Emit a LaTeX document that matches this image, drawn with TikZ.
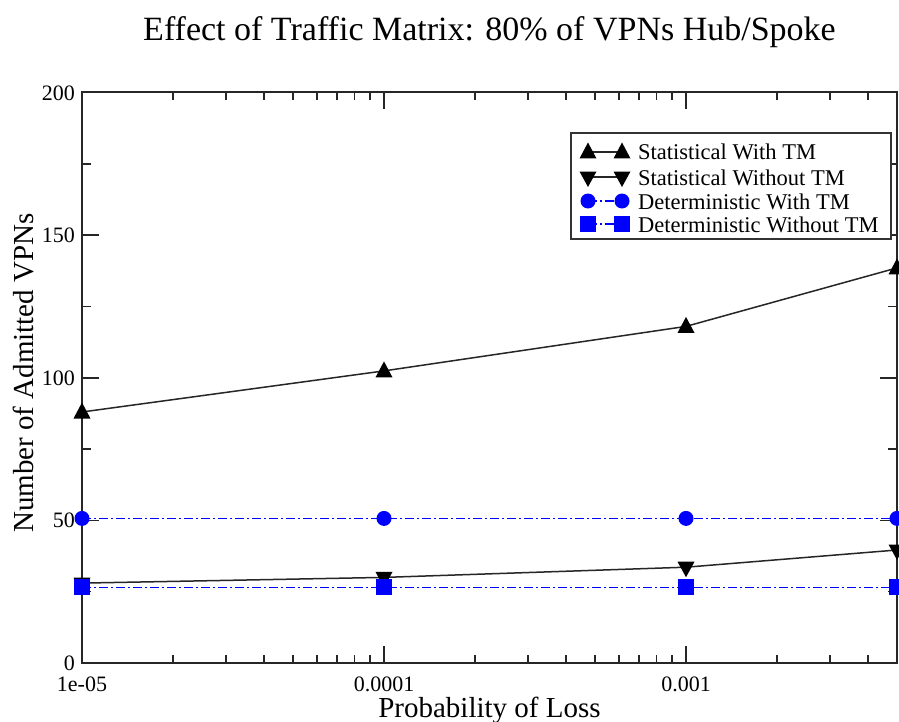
\documentclass[tikz,border=0pt]{standalone}
\usepackage{fontspec}
\setmainfont{Liberation Serif}
\begin{document}
\begin{tikzpicture}[x=1bp,y=-1bp,
  axisline/.style={line width=2bp, black!85},
  tickline/.style={line width=1.5bp, black!85},
  sline/.style={line width=1.5bp, black!85},
  dline/.style={line width=1.3bp, blue, dash pattern=on 9bp off 3bp on 2bp off 3bp},
  ticklab/.style={font=\fontsize{22bp}{24bp}\selectfont, inner sep=0pt},
  leglab/.style={font=\fontsize{22.5bp}{24bp}\selectfont, inner sep=0pt, anchor=base west},
  mtriup/.pic={\fill[black] (-8.5,6.5) -- (8.5,6.5) -- (0,-9.5) -- cycle;},
  mtridown/.pic={\fill[black] (-8.5,-5.5) -- (8.5,-5.5) -- (0,10) -- cycle;},
  mcirc/.pic={\fill[blue] (0,0) circle (7.5bp);},
  msq/.pic={\fill[blue] (-8,-8) rectangle (8,8);}
]
\useasboundingbox (0,0) rectangle (899,722);
\fill[white] (0,0) rectangle (899,722);

% title
\node[font=\fontsize{34bp}{38bp}\selectfont, anchor=base, inner sep=0pt] (title) at (489.5,41) {Effect of Traffic Matrix: 80\% of VPNs Hub/Spoke};

% axis labels
\node[font=\fontsize{29bp}{32bp}\selectfont, anchor=base, inner sep=0pt] (xlab) at (489.5,717) {Probability of Loss};
\node[font=\fontsize{29bp}{32bp}\selectfont, anchor=base, inner sep=0pt, rotate=90] (ylab) at (33,373) {Number of Admitted VPNs};

% y ticks
\foreach \v in {0,50,100,150,200}{
  \pgfmathsetmacro\yy{663-2.8525*\v}
  \draw[tickline] (82,\yy) -- ++(17,0);
  \draw[tickline] (897,\yy) -- ++(-17,0);
  \node[ticklab, anchor=base east] (yt\v) at (75,\yy+7.5) {\v};
}
\foreach \v in {25,75,125,175}{
  \pgfmathsetmacro\yy{663-2.8525*\v}
  \draw[tickline] (82,\yy) -- ++(9,0);
  \draw[tickline] (897,\yy) -- ++(-9,0);
}
% x ticks
\foreach \d/\lab in {0/1e-05,1/0.0001,2/0.001}{
  \pgfmathsetmacro\xx{82+302*\d}
  \draw[tickline] (\xx,663) -- ++(0,-17);
  \draw[tickline] (\xx,92.5) -- ++(0,17);
  \node[ticklab, anchor=base] (xt\d) at (\xx,691) {\lab};
}
\foreach \d/\k in {0/2,0/3,0/4,0/5,0/6,0/7,0/8,0/9,1/2,1/3,1/4,1/5,1/6,1/7,1/8,1/9,2/2,2/3,2/4}{
  \pgfmathsetmacro\xx{82+302*(\d+log10(\k))}
  \draw[tickline] (\xx,663) -- ++(0,-8);
  \draw[tickline] (\xx,92.5) -- ++(0,8);
}

% axes box
\draw[axisline] (82,92.5) rectangle (897,663);

% data coordinates
\coordinate (a1) at (82,412.0);
\coordinate (a2) at (384,370.9);
\coordinate (a3) at (686,326.4);
\coordinate (a4) at (897,267.9);
\coordinate (b1) at (82,583.1);
\coordinate (b2) at (384,577.4);
\coordinate (b3) at (686,567.2);
\coordinate (b4) at (897,550.0);
\coordinate (c1) at (82,518.4);
\coordinate (c2) at (384,518.4);
\coordinate (c3) at (686,518.4);
\coordinate (c4) at (897,518.4);
\coordinate (d1) at (82,587.4);
\coordinate (d2) at (384,587.4);
\coordinate (d3) at (686,587.4);
\coordinate (d4) at (897,587.4);

% statistical
\draw[sline] (a1) -- (a2) -- (a3) -- (a4);
\draw[sline] (b1) -- (b2) -- (b3) -- (b4);
\foreach \i in {1,2,3,4}{
  \pic at (a\i) {mtriup};
  \pic at (b\i) {mtridown};
}
% deterministic
\draw[dline] (c1) -- (c2) -- (c3) -- (c4);
\draw[dline] (d1) -- (d2) -- (d3) -- (d4);
\foreach \i in {1,2,3,4}{
  \pic at (c\i) {mcirc};
  \pic at (d\i) {msq};
}

% legend
\draw[line width=1.5bp, black!80, fill=white] (571,133) rectangle (891,239);
\foreach \r/\yy/\txt in {1/152/Statistical With TM,2/177/Statistical Without TM,3/201/Deterministic With TM,4/224/Deterministic Without TM}{
  \coordinate (l\r a) at (588,\yy);
  \coordinate (l\r b) at (622,\yy);
  \node[leglab] (lt\r) at (638,\yy+8) {\txt};
}
\draw[sline] (l1a) -- (l1b);
\pic at (l1a) {mtriup}; \pic at (l1b) {mtriup};
\draw[sline] (l2a) -- (l2b);
\pic at (l2a) {mtridown}; \pic at (l2b) {mtridown};
\draw[dline] (l3a) -- (l3b);
\pic at (l3a) {mcirc}; \pic at (l3b) {mcirc};
\draw[dline] (l4a) -- (l4b);
\pic at (l4a) {msq}; \pic at (l4b) {msq};
\end{tikzpicture}
\end{document}
